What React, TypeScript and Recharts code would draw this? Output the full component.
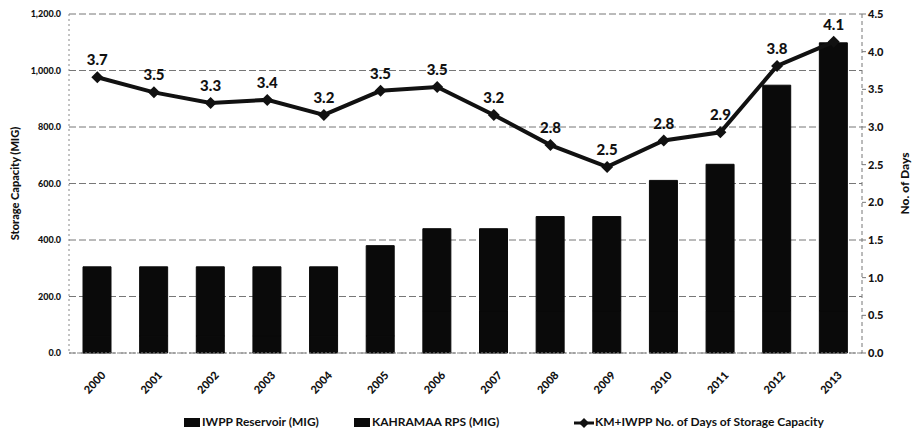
import React from 'react';
import { ComposedChart, Bar, Line, XAxis, YAxis, CartesianGrid, LabelList } from 'recharts';

const years = ['2000','2001','2002','2003','2004','2005','2006','2007','2008','2009','2010','2011','2012','2013'];
const iwppReservoir = [60, 60, 60, 60, 60, 60, 150, 150, 150, 150, 150, 150, 150, 150];
const kahramaaRps = [245, 245, 245, 245, 245, 320, 290, 290, 333, 333, 461, 518, 798, 948];
const storageDays = [3.66, 3.46, 3.32, 3.36, 3.16, 3.48, 3.53, 3.16, 2.76, 2.47, 2.82, 2.93, 3.81, 4.13];
const leftTicks = [0, 200, 400, 600, 800, 1000, 1200];
const rightTicks = [0, 0.5, 1, 1.5, 2, 2.5, 3, 3.5, 4, 4.5];

const data = years.map((y, i) => ({
  year: y,
  iwpp: iwppReservoir[i],
  kahramaa: kahramaaRps[i],
  days: storageDays[i],
}));

const FONT = 'Lato, "Open Sans", sans-serif';
const BAR = '#0a0a0a';

const Diamond = (p: any) => {
  const { cx, cy, index } = p;
  if (cx == null || cy == null) return <g key={index} />;
  return <path key={index} d={`M${cx},${cy - 6}L${cx + 6},${cy}L${cx},${cy + 6}L${cx - 6},${cy}Z`} fill="#111" />;
};

const YearTick = (p: any) => {
  const { x, y, payload } = p;
  return (
    <g transform={`translate(${x + 6},${y + 12})`}>
      <text x={0} y={0} dy={4} textAnchor="end" transform="rotate(-47)" fontSize={11} fontWeight={900} fill="#111" fontFamily={FONT}>
        {payload.value}
      </text>
    </g>
  );
};

export default function App() {
  return (
    <div style={{ position: 'absolute', left: 0, top: 0, width: 913, height: 438, background: '#fff', fontFamily: FONT }}>
      <ComposedChart width={913} height={438} data={data} margin={{ top: 14, right: 6, bottom: 35, left: 9 }} barCategoryGap="50%">
        <CartesianGrid yAxisId="left" vertical={false} stroke="#777" strokeDasharray="7 3" />
        <XAxis
          dataKey="year"
          tick={<YearTick />}
          tickLine={false}
          axisLine={{ stroke: '#888', strokeDasharray: '2 2' }}
          interval={0}
          height={50}
        />
        <YAxis
          yAxisId="left"
          domain={[0, 1200]}
          ticks={leftTicks}
          width={60}
          tickFormatter={(v: number) => v.toLocaleString('en-US', { minimumFractionDigits: 1, maximumFractionDigits: 1 })}
          tick={{ fontSize: 9, fontWeight: 900, fill: '#111', fontFamily: FONT }}
          tickLine={false}
          axisLine={{ stroke: '#888', strokeDasharray: '2 3' }}
          label={{ value: 'Storage Capacity (MIG)', angle: -90, position: 'insideLeft', offset: 6, style: { fontSize: 11, fontWeight: 900, fill: '#111', fontFamily: FONT, textAnchor: 'middle' } }}
        />
        <YAxis
          yAxisId="right"
          orientation="right"
          domain={[0, 4.5]}
          ticks={rightTicks}
          width={45}
          tickFormatter={(v: number) => v.toFixed(1)}
          tick={{ fontSize: 11, fontWeight: 900, fill: '#111', fontFamily: FONT }}
          tickSize={4}
          tickLine={{ stroke: '#777' }}
          axisLine={{ stroke: '#777', strokeDasharray: '4 3' }}
          label={{ value: 'No. of Days', angle: -90, position: 'insideRight', offset: 2, style: { fontSize: 12, fontWeight: 900, fill: '#111', fontFamily: FONT, textAnchor: 'middle' } }}
        />
        <Bar yAxisId="left" dataKey="iwpp" stackId="s" fill={BAR} stroke={BAR} strokeWidth={1} barSize={28} isAnimationActive={false} />
        <Bar yAxisId="left" dataKey="kahramaa" stackId="s" fill={BAR} stroke={BAR} strokeWidth={1} barSize={28} isAnimationActive={false} />
        <Line yAxisId="right" dataKey="days" stroke="#111" strokeWidth={4} dot={Diamond} activeDot={false} isAnimationActive={false}>
          <LabelList dataKey="days" position="top" offset={12} formatter={(v: any) => Number(v).toFixed(1)} style={{ fontSize: 15, fontWeight: 900, fill: '#111', fontFamily: FONT }} />
        </Line>
      </ComposedChart>
      <div style={{ position: 'absolute', top: 414, left: 0, width: 913, height: 18, fontSize: 12, fontWeight: 700, color: '#111', fontFamily: FONT }}>
        <div style={{ position: 'absolute', left: 184, top: 4, width: 16, height: 9, background: BAR }} />
        <span style={{ position: 'absolute', left: 202, top: 0, whiteSpace: 'nowrap' }}>IWPP Reservoir (MIG)</span>
        <div style={{ position: 'absolute', left: 354, top: 4, width: 16, height: 9, background: BAR }} />
        <span style={{ position: 'absolute', left: 372, top: 0, whiteSpace: 'nowrap' }}>KAHRAMAA RPS (MIG)</span>
        <svg style={{ position: 'absolute', left: 574, top: 2 }} width={20} height={14}>
          <line x1={0} y1={7} x2={20} y2={7} stroke="#111" strokeWidth={3} />
          <path d="M10,2L15,7L10,12L5,7Z" fill="#111" />
        </svg>
        <span style={{ position: 'absolute', left: 595, top: 0, whiteSpace: 'nowrap' }}>KM+IWPP No. of Days of Storage Capacity</span>
      </div>
    </div>
  );
}
